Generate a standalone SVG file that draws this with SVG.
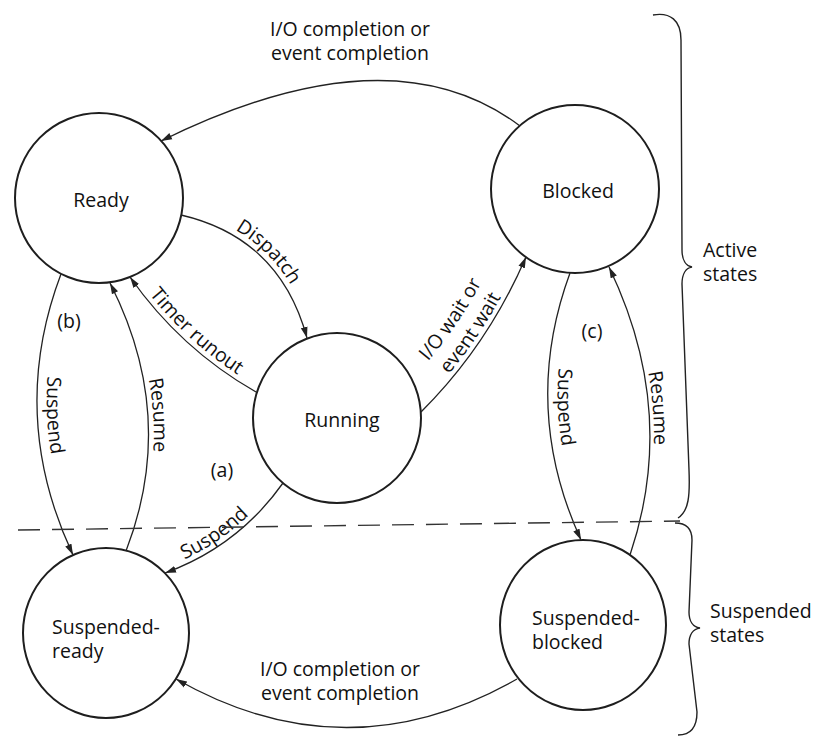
<svg xmlns="http://www.w3.org/2000/svg" width="818" height="744" viewBox="0 0 818 744">
<style>
  .node ellipse { fill: none; stroke: #1e1e1e; stroke-width: 2; }
  text { font-family: "Open Sans", "Noto Sans", "DejaVu Sans", sans-serif; font-size: 19.5px; fill: #111; }
  .edge { fill: none; stroke: #222; stroke-width: 1.3; marker-end: url(#arr); }
  .brace { fill: none; stroke: #222; stroke-width: 1.4; }
  .dash { fill: none; stroke: #333; stroke-width: 1.4; stroke-dasharray: 22 12; }
</style>
<defs>
  <marker id="arr" markerUnits="userSpaceOnUse" markerWidth="12" markerHeight="8" refX="11" refY="4" orient="auto">
    <path d="M0,0.6 L11,4 L0,7.4 z" fill="#222"/>
  </marker>
  <path id="lp-dispatch" d="M184,210 Q284,233.5 312,336"/>
  <path id="lp-timer" d="M134,274 Q184,345 259.5,388"/>
  <path id="lp-iowait1" d="M400,392 Q463,329.6 499.5,245.2"/>
  <path id="lp-iowait2" d="M417.4,408.6 Q483.3,343.2 521.4,255"/>
  <path id="lp-suspa" d="M163.5,568 Q234.9,542.2 279,480"/>
  <path id="lp-suspb" d="M70,278 Q18,415.5 82,551"/>
  <path id="lp-resb" d="M114.4,281 Q184,416.5 130.7,553"/>
  <path id="lp-suspc" d="M579.4,276.6 Q531,407.5 590.1,536"/>
  <path id="lp-resc" d="M612.6,265 Q683,411.5 633.8,556"/>
</defs>
<rect width="818" height="744" fill="#fff"/>

<g id="ready" class="node">
  <ellipse cx="99" cy="198" rx="84" ry="85"/>
  <text x="101" y="207" text-anchor="middle">Ready</text>
</g>
<g id="blocked" class="node">
  <ellipse cx="575" cy="189" rx="84" ry="84"/>
  <text x="578" y="198" text-anchor="middle">Blocked</text>
</g>
<g id="running" class="node">
  <ellipse cx="337" cy="418" rx="84" ry="85"/>
  <text x="342" y="427" text-anchor="middle">Running</text>
</g>
<g id="suspended-ready" class="node">
  <ellipse cx="106" cy="633" rx="83" ry="85"/>
  <text x="52" y="634">Suspended-</text>
  <text x="52" y="658">ready</text>
</g>
<g id="suspended-blocked" class="node">
  <ellipse cx="583" cy="625" rx="83" ry="85"/>
  <text x="532" y="625">Suspended-</text>
  <text x="532" y="649">blocked</text>
</g>

<g id="connectors">
  <path class="edge" d="M520,126 Q390,28 161,141"/>
  <path class="edge" d="M181,215 Q280,238 307,338"/>
  <path class="edge" d="M256,392 Q180.5,349 130,277"/>
  <path class="edge" d="M421,412 Q487.5,346 526,257"/>
  <path class="edge" d="M283,483 Q238,546.5 165,573"/>
  <path class="edge" d="M61,274 Q7.5,415.5 73,555"/>
  <path class="edge" d="M126,551 Q178,416.5 110,283"/>
  <path class="edge" d="M570,273 Q520.5,407.5 581,540"/>
  <path class="edge" d="M630,555 Q678.5,411.5 609,267"/>
  <path class="edge" d="M517,679 Q346.5,776 176,679"/>
</g>

<g id="edge-labels">
  <text x="350" y="36" text-anchor="middle">I/O completion or</text>
  <text x="350" y="60" text-anchor="middle">event completion</text>
  <text text-anchor="middle"><textPath href="#lp-dispatch" startOffset="50%">Dispatch</textPath></text>
  <text text-anchor="middle"><textPath href="#lp-timer" startOffset="50%">Timer runout</textPath></text>
  <text text-anchor="middle"><textPath href="#lp-iowait1" startOffset="50%">I/O wait or</textPath></text>
  <text text-anchor="middle"><textPath href="#lp-iowait2" startOffset="50%">event wait</textPath></text>
  <text text-anchor="middle"><textPath href="#lp-suspa" startOffset="42%">Suspend</textPath></text>
  <text text-anchor="middle"><textPath href="#lp-suspb" startOffset="50%">Suspend</textPath></text>
  <text text-anchor="middle"><textPath href="#lp-resb" startOffset="50%">Resume</textPath></text>
  <text text-anchor="middle"><textPath href="#lp-suspc" startOffset="50%">Suspend</textPath></text>
  <text text-anchor="middle"><textPath href="#lp-resc" startOffset="50%">Resume</textPath></text>
  <text x="340" y="676" text-anchor="middle">I/O completion or</text>
  <text x="340" y="700" text-anchor="middle">event completion</text>
  <text x="222" y="477" text-anchor="middle">(a)</text>
  <text x="69" y="328" text-anchor="middle">(b)</text>
  <text x="592" y="338" text-anchor="middle">(c)</text>
</g>

<g id="grouping">
  <path class="dash" d="M18,530 L680,521"/>
  <path class="brace" d="M653,15 C670,12 681,20 681,40 L682,250 C682,260 686,266 692,267 C686,268 682,274 682,284 L689,470 C690,495 689,511 678,518"/>
  <path class="brace" d="M675,523 C686,523 692,528 692,540 L689,612 C689,621 693,627 700,628 C693,629 689,635 689,644 L697,712 C697,727 691,735 678,735"/>
  <text x="703" y="257">Active</text>
  <text x="703" y="281">states</text>
  <text x="710" y="618">Suspended</text>
  <text x="710" y="642">states</text>
</g>
</svg>
